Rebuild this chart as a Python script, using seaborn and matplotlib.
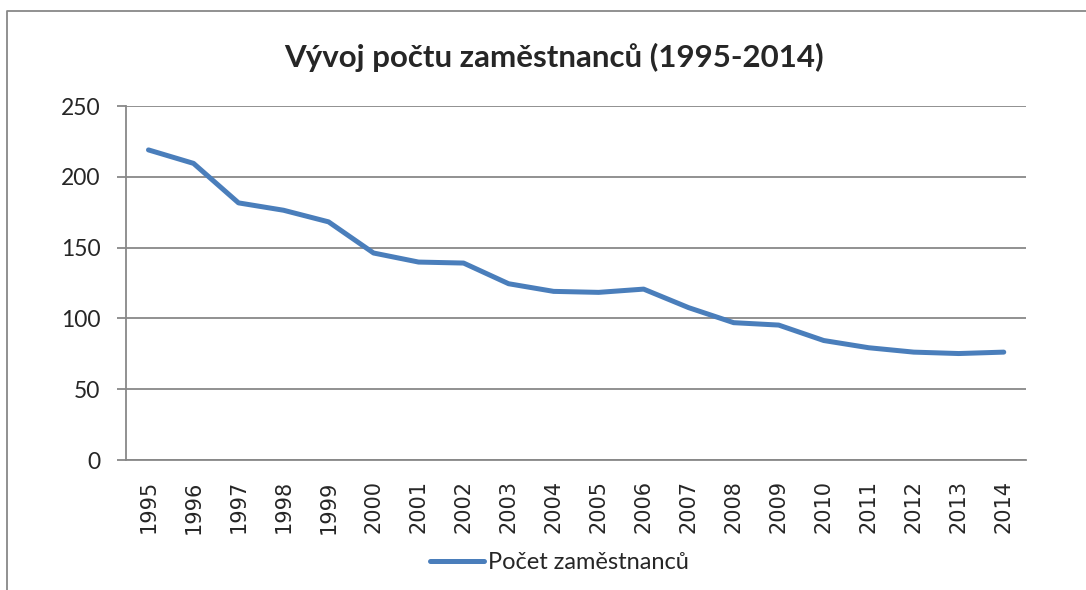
import matplotlib
matplotlib.use('Agg')
from matplotlib import pyplot as plt
from matplotlib.lines import Line2D
import seaborn as sns
import pandas as pd

roky = [str(r) for r in range(1995, 2015)]
pocet_zamestnancu = [219, 209.5, 181.6, 176.4, 168.2, 146.2, 139.8, 139.1, 124.5, 119.1,
                     118.4, 120.7, 107.6, 97, 95.3, 84.4, 79.3, 76.2, 75.2, 76.2]
nazev_rady = 'Počet zaměstnanců'
titulek = 'Vývoj počtu zaměstnanců (1995-2014)'

data = pd.DataFrame({'rok': roky, nazev_rady: pocet_zamestnancu})

sns.set_style('white')
plt.rcParams['font.family'] = ['DejaVu Sans']

fig = plt.figure(figsize=(10.86, 5.9), dpi=100)
ax = fig.add_axes([0.116, 0.2203, 0.829, 0.6])

sns.lineplot(x='rok', y=nazev_rady, data=data, ax=ax, color='#4A7EBB',
             linewidth=3.6, sort=False, label=nazev_rady, legend=False,
             solid_capstyle='round')

ax.set_xlim(-0.5, 19.5)
ax.set_ylim(0, 250)
ax.set_yticks([0, 50, 100, 150, 200, 250])
ax.set_xlabel('')
ax.set_ylabel('')
ax.grid(axis='y', color='#888888', linewidth=1.3)
ax.set_axisbelow(True)
for s in ['top', 'right']:
    ax.spines[s].set_visible(False)
for s in ['left', 'bottom']:
    ax.spines[s].set_color('#888888')
    ax.spines[s].set_linewidth(1.3)
ax.tick_params(axis='y', left=True, length=6.5, width=1.3, color='#888888',
               pad=12, labelsize=16.5)
ax.tick_params(axis='x', bottom=False, pad=11, labelsize=15, labelrotation=90)
for t in ax.get_yticklabels():
    t.set_family(['Lato', 'DejaVu Sans'])

fig.text(0.51, 0.903, titulek, ha='center', va='center', fontsize=22.5,
         fontweight='bold', family=['Lato', 'DejaVu Sans'])

h = [Line2D([], [], color='#4A7EBB', linewidth=3.6, solid_capstyle='round')]
fig.legend(h, [nazev_rady], loc='center', bbox_to_anchor=(0.515, 0.047),
           frameon=False, handlelength=2.3, handletextpad=0.15,
           prop={'family': ['Lato', 'DejaVu Sans'], 'size': 17})

# ramecek grafu (levy a horni okraj)
fig.add_artist(Line2D([0.0064, 0.0064, 1.0], [0.0, 0.981, 0.981],
                      transform=fig.transFigure, color='#888888', linewidth=1.3))

fig.savefig('out.png', dpi=100)
